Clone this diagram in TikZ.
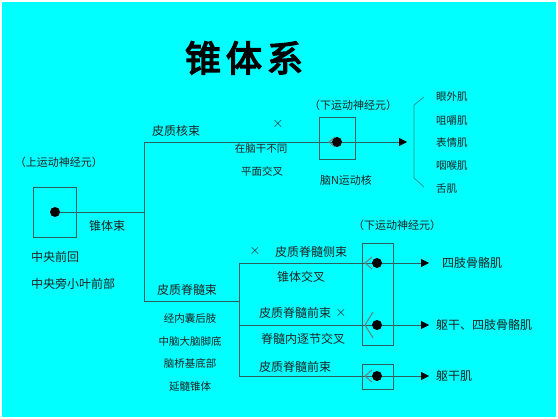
\documentclass[tikz,border=0pt]{standalone}
\usepackage{fontspec}
\newfontfamily\cjk{Noto Sans CJK SC}
\newfontfamily\cjkt{Noto Sans CJK SC}[FakeBold=4]
\usetikzlibrary{arrows.meta}
\definecolor{bg}{RGB}{0,255,255}
\definecolor{ln}{RGB}{45,95,95}
\definecolor{tx}{RGB}{35,35,35}
\definecolor{chv}{RGB}{110,125,125}
\begin{document}
\begin{tikzpicture}[x=1pt,y=-1pt,
  lbl/.style={font=\cjk\fontsize{12}{12}\selectfont, text=tx, inner sep=0pt},
  sm/.style={font=\cjk\fontsize{10.5}{10.5}\selectfont, text=tx, inner sep=0pt},
  md/.style={font=\cjk\fontsize{11}{11}\selectfont, text=tx, inner sep=0pt},
  xmark/.style={font=\fontsize{15}{15}\selectfont, text=tx, inner sep=0pt},
  wire/.style={draw=ln, line width=0.8pt},
  frame/.style={draw=ln, line width=0.8pt, rectangle, inner sep=0pt},
  dot/.style={circle, fill=black, inner sep=0pt, minimum size=10pt},
  arr/.style={wire, -{Triangle[length=8pt,width=8pt,color=black]}},
  chev/.style={draw=chv, line width=1pt},
  brk/.style={draw=ln!70!bg, line width=0.7pt}
]
\useasboundingbox (0,0) rectangle (558,419);
\fill[white] (0,0) rectangle (558,419);
\fill[bg] (2,2) rectangle (556,417);

% title
\node[font=\cjkt\fontsize{36}{36}\selectfont, inner sep=0pt] (title) at (244,58) {锥\hspace{5pt}体\hspace{5pt}系};

% boxes
\node[frame, minimum width=43pt, minimum height=50pt] (box0) at (54.5,212) {};
\node[frame, minimum width=36pt, minimum height=42pt] (box1) at (337,138) {};
\node[frame, minimum width=31pt, minimum height=102pt] (box2) at (377.5,294) {};
\node[frame, minimum width=31pt, minimum height=25pt] (box3) at (377.5,376.5) {};

% dots
\node[dot] (d0) at (55,212) {};
\node[dot] (d1) at (337,142) {};
\node[dot] (d2) at (377,263) {};
\node[dot] (d3) at (377,325) {};
\node[dot] (d4) at (377,376) {};

% junction coordinates
\coordinate (j1) at (144,212);
\coordinate (jt) at (144,142);
\coordinate (jb) at (144,301);
\coordinate (k1) at (239,301);
\coordinate (kt) at (239,263);
\coordinate (km) at (239,325);
\coordinate (kb) at (239,376);
\coordinate (e1) at (407,142);
\coordinate (e2) at (429,263);
\coordinate (e3) at (429,325);
\coordinate (e4) at (429,376);

% wires
\draw[wire] (d0) -- (j1);
\draw[wire] (jt) -- (jb);
\draw[wire] (jt) -- (d1);
\draw[wire] (jb) -- (k1);
\draw[wire] (kt) -- (kb);
\draw[wire] (kt) -- (d2);
\draw[wire] (km) -- (d3);
\draw[wire] (kb) -- (d4);

% arrows
\draw[arr] (d1) -- (e1);
\draw[arr] (d2) -- (e2);
\draw[arr] (d3) -- (e3);
\draw[arr] (d4) -- (e4);

% chevrons
\draw[chev] ([xshift=-2pt,yshift=5pt]d1.center) -- ([xshift=-8pt]d1.center) -- ([xshift=-2pt,yshift=-5pt]d1.center);
\draw[chev] ([xshift=-5pt,yshift=6pt]d2.center) -- ([xshift=-12pt]d2.center) -- ([xshift=-5pt,yshift=-6pt]d2.center);
\draw[chev] ([xshift=-4pt,yshift=13pt]d3.center) -- ([xshift=-12pt]d3.center) -- ([xshift=-4pt,yshift=-13pt]d3.center);
\draw[chev] ([xshift=-5pt,yshift=6pt]d4.center) -- ([xshift=-12pt]d4.center) -- ([xshift=-5pt,yshift=-6pt]d4.center);

% bracket
\draw[brk] (424,97) -- (414,105) -- (414,178) -- (424,187);

% labels upper left
\node[md] (upn) at (59,162) {（上运动神经元）};
\node[lbl] (zts) at (107,226) {锥体束};
\node[lbl, anchor=west] (zyq) at (31,257) {中央前回};
\node[lbl, anchor=west] (zyp) at (31,284) {中央旁小叶前部};

% upper branch
\node[lbl] (phs) at (176,131) {皮质核束};
\node[xmark] (x1) at (278,124) {$\times$};
\node[sm] (znd) at (261,149) {在脑干不同};
\node[sm] (pmj) at (262,171) {平面交叉};
\node[md] (lmn1) at (353,105) {（下运动神经元）};
\node[md] (nhn) at (346,180) {脑N运动核};
\node[sm, anchor=west] (m1) at (436,97) {眼外肌};
\node[sm, anchor=west] (m2) at (436,121) {咀嚼肌};
\node[sm, anchor=west] (m3) at (436,143) {表情肌};
\node[sm, anchor=west] (m4) at (436,166) {咽喉肌};
\node[sm, anchor=west] (m5) at (436,189) {舌肌};

% lower branch
\node[lbl] (pjs) at (187,290) {皮质脊髓束};
\node[sm] (p1) at (190,319) {经内囊后肢};
\node[sm] (p2) at (190,342) {中脑大脑脚底};
\node[sm] (p3) at (190,364) {脑桥基底部};
\node[sm] (p4) at (190,387) {延髓锥体};

\node[xmark] (x2) at (255,251) {$\times$};
\node[lbl] (cs) at (311,252) {皮质脊髓侧束};
\node[lbl] (ztj) at (301,277) {锥体交叉};
\node[lbl] (qs1) at (295,313) {皮质脊髓前束};
\node[xmark] (x3) at (341,313) {$\times$};
\node[lbl] (jsn) at (303,339) {脊髓内逐节交叉};
\node[lbl] (qs2) at (295,367) {皮质脊髓前束};
\node[md] (lmn2) at (397,225) {（下运动神经元）};

\node[lbl, anchor=west] (t1) at (442,263) {四肢骨骼肌};
\node[lbl, anchor=west] (t2) at (436,325) {躯干、四肢骨骼肌};
\node[lbl, anchor=west] (t3) at (436,376) {躯干肌};
\end{tikzpicture}
\end{document}
